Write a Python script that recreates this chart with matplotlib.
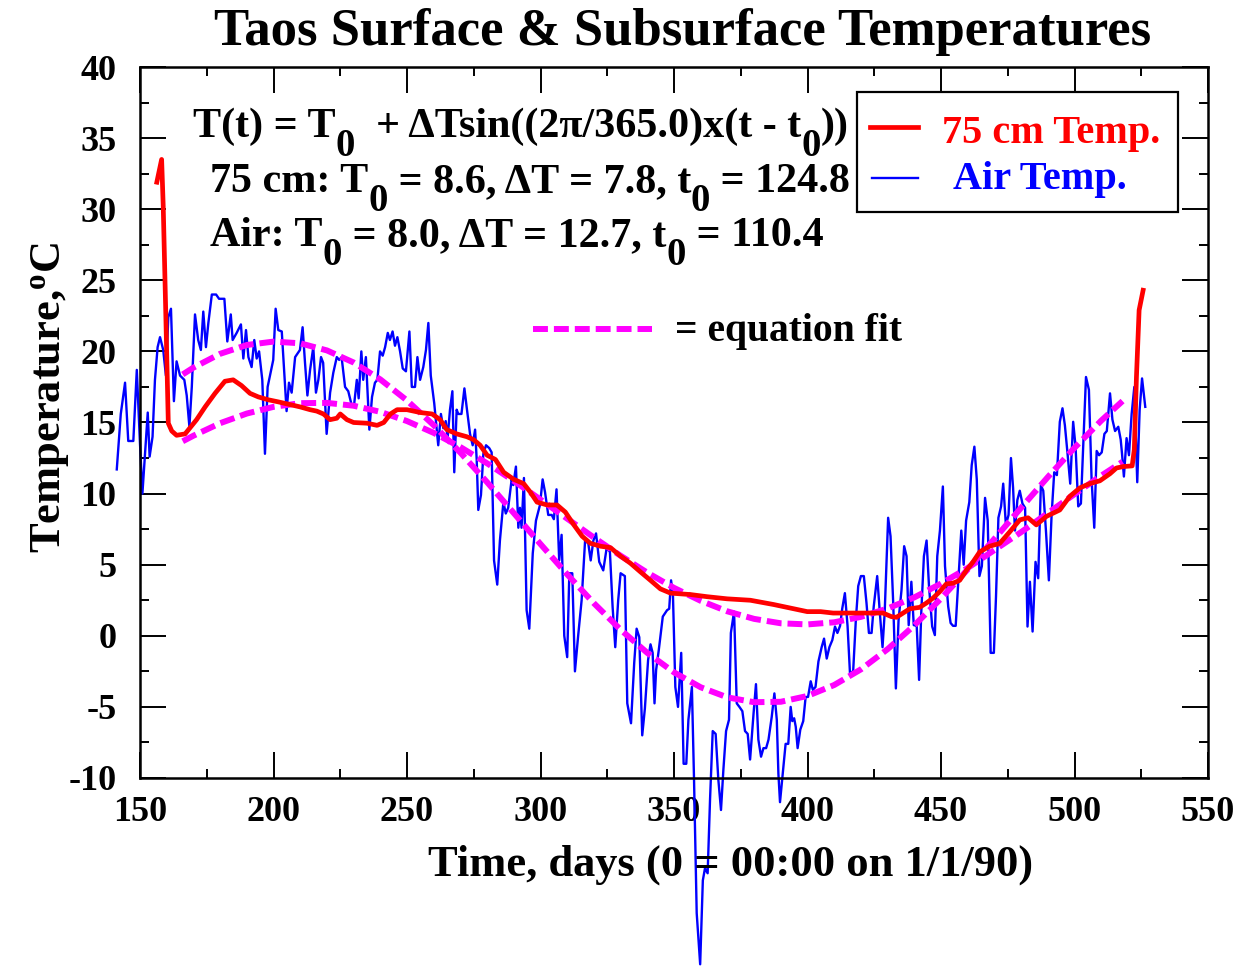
#!/usr/bin/env python3
"""Taos surface and subsurface temperatures with sinusoidal equation fits."""

import matplotlib

matplotlib.use("Agg")
import matplotlib.pyplot as plt
from matplotlib.lines import Line2D
from matplotlib.patches import Rectangle
from matplotlib.ticker import MultipleLocator

# 75 cm soil temperature (days since 1/1/90, deg C)
soil_t = [156.3, 158.1, 158.7, 159.6, 160.6, 161.9, 163.7, 166.9, 171.2, 174.4,
          178.1, 181.8, 184.9, 188.0, 191.2, 194.3, 198.0, 201.8, 209.9, 213.7,
          216.2, 218.7, 221.2, 223.7, 225.0, 227.5, 230.0, 235.0, 238.8, 241.3,
          243.8, 246.3, 250.0, 255.0, 259.4, 262.4, 264.9, 268.6, 272.4, 274.9,
          277.4, 280.0, 283.1, 286.2, 290.0, 293.7, 296.2, 298.7, 302.5, 306.2,
          309.3, 312.5, 315.6, 318.7, 322.5, 326.2, 330.0, 333.7, 337.4, 341.2,
          344.9, 348.7, 356.2, 362.4, 369.9, 378.6, 387.3, 393.6, 399.9, 404.9,
          409.6, 415.9, 422.1, 428.3, 431.4, 433.3, 435.8, 438.3, 442.0, 444.5,
          447.0, 449.5, 452.0, 454.5, 457.0, 459.5, 462.0, 464.5, 468.2, 472.0,
          475.7, 479.5, 482.6, 485.7, 489.5, 494.5, 498.2, 502.0, 505.7, 509.5,
          513.3, 515.7, 518.2, 521.6, 522.4, 523.2, 524.2, 525.7]
soil_temp = [31.9, 33.5, 30.2, 23.1, 14.95, 14.4, 14.1, 14.2, 15.2, 16.1,
             17.05, 17.9, 18.0, 17.6, 17.05, 16.8, 16.6, 16.45, 16.1, 15.9,
             15.8, 15.6, 15.2, 15.3, 15.6, 15.2, 15.0, 14.95, 14.8, 15.0,
             15.6, 15.9, 15.9, 15.7, 15.6, 15.2, 14.5, 14.2, 14.0, 13.8,
             13.4, 12.7, 12.4, 11.5, 11.0, 10.7, 10.1, 9.4, 9.2, 9.2,
             8.7, 7.8, 7.0, 6.5, 6.3, 6.2, 5.6, 5.1, 4.5, 3.9,
             3.3, 3.0, 2.9, 2.75, 2.6, 2.5, 2.2, 1.95, 1.7, 1.7,
             1.6, 1.6, 1.6, 1.6, 1.35, 1.3, 1.6, 1.9, 2.0, 2.3,
             2.65, 3.1, 3.65, 3.7, 3.9, 4.6, 5.2, 5.9, 6.3, 6.5,
             7.3, 8.15, 8.3, 7.8, 8.4, 8.85, 9.8, 10.4, 10.7, 10.9,
             11.4, 11.8, 11.9, 11.95, 13.1, 18.2, 22.9, 24.3]

# daily air temperature
air_t = [141.3, 142.8, 144.4, 145.6, 147.5, 148.8, 150.0, 150.9, 151.9, 152.9,
         153.6, 154.7, 155.6, 156.6, 157.5, 158.7, 159.7, 160.6, 161.6, 162.7,
         163.7, 165.0, 166.6, 167.5, 168.5, 169.4, 170.6, 171.8, 172.8, 173.7,
         174.7, 175.6, 176.9, 178.5, 179.6, 181.6, 182.7, 184.0, 184.7, 186.2,
         187.8, 188.7, 189.7, 190.6, 191.8, 192.8, 193.7, 194.6, 195.8, 196.8,
         197.8, 199.1, 199.9, 200.8, 201.8, 203.1, 204.9, 205.8, 206.8, 208.1,
         209.9, 210.9, 211.8, 212.7, 213.7, 214.9, 215.9, 216.8, 217.8, 218.6,
         219.9, 221.2, 222.4, 223.7, 224.6, 225.5, 226.8, 228.0, 229.3, 230.1,
         231.2, 231.9, 232.9, 233.6, 234.6, 235.9, 236.9, 238.0, 238.9, 239.9,
         240.9, 241.8, 242.8, 243.6, 244.6, 245.5, 246.4, 247.4, 248.4, 249.6,
         250.9, 251.8, 253.0, 253.9, 254.9, 256.1, 257.1, 258.0, 258.9, 260.2,
         261.7, 262.7, 263.6, 264.5, 265.2, 266.1, 267.0, 267.7, 268.6, 269.2,
         270.4, 271.5, 272.4, 273.6, 274.6, 275.5, 276.1, 276.7, 277.7, 278.6,
         279.6, 280.8, 281.7, 282.6, 283.8, 284.8, 286.1, 287.0, 287.9, 289.2,
         289.8, 290.8, 291.7, 292.3, 292.9, 293.8, 294.8, 295.8, 297.1, 298.3,
         299.8, 300.8, 301.7, 302.9, 304.2, 305.0, 306.0, 307.0, 307.9, 308.9,
         310.0, 310.8, 311.9, 312.9, 314.1, 315.4, 316.7, 317.9, 318.8, 319.8,
         320.8, 322.0, 323.5, 324.8, 326.0, 327.0, 328.0, 329.1, 330.0, 331.6,
         332.5, 333.9, 335.1, 336.0, 337.0, 338.1, 339.1, 340.3, 341.2, 342.0,
         342.7, 343.3, 344.3, 345.8, 347.4, 348.2, 348.9, 349.6, 350.5, 351.5,
         352.7, 353.6, 354.6, 355.4, 356.7, 357.5, 358.5, 359.8, 360.8, 361.6,
         362.6, 363.5, 364.5, 365.6, 366.6, 367.6, 368.5, 369.5, 370.6, 371.3,
         372.5, 373.5, 374.5, 375.6, 376.6, 377.6, 378.5, 379.8, 380.7, 381.6,
         382.6, 383.5, 384.5, 385.4, 386.6, 387.6, 388.5, 389.1, 389.7, 391.0,
         391.8, 392.8, 393.7, 394.3, 395.0, 395.6, 396.3, 397.3, 398.4, 399.3,
         400.2, 401.2, 402.0, 403.0, 404.1, 405.3, 406.2, 407.2, 408.2, 409.3,
         410.3, 411.2, 412.2, 413.0, 414.0, 415.0, 415.9, 417.1, 418.1, 419.0,
         420.0, 421.1, 422.1, 423.0, 424.0, 424.8, 426.1, 427.1, 428.1, 428.9,
         430.2, 431.1, 432.1, 433.1, 434.1, 435.2, 436.2, 437.1, 437.9, 438.9,
         439.8, 440.9, 441.8, 442.6, 443.6, 444.6, 445.5, 446.7, 447.7, 448.6,
         449.6, 450.7, 451.5, 452.7, 453.6, 454.5, 455.5, 456.7, 457.6, 458.5,
         459.4, 460.6, 461.5, 462.5, 463.4, 464.4, 465.3, 466.5, 467.5, 468.6,
         469.8, 470.6, 471.5, 472.5, 473.3, 474.3, 475.3, 476.2, 477.0, 477.7,
         478.6, 479.5, 480.5, 481.5, 482.4, 483.3, 484.3, 485.4, 486.4, 487.4,
         488.3, 489.3, 490.4, 491.4, 492.4, 493.4, 494.5, 495.5, 496.4, 497.4,
         498.4, 499.5, 500.4, 501.4, 502.4, 503.3, 504.3, 505.4, 506.4, 507.4,
         508.3, 509.2, 510.2, 511.2, 512.1, 513.3, 514.2, 515.2, 516.4, 517.3,
         517.8, 518.5, 519.5, 520.4, 521.4, 522.4, 523.5, 524.4, 525.3, 526.5]
air_temp = [11.7, 15.6, 17.8, 13.7, 13.7, 18.7, 13.5, 10.0, 12.9, 15.7,
            12.6, 14.0, 18.0, 20.3, 21.0, 20.1, 18.3, 22.4, 23.0, 16.5,
            19.3, 18.3, 18.0, 16.9, 14.7, 17.5, 22.6, 20.8, 20.1, 22.8,
            20.3, 22.0, 24.0, 24.0, 23.7, 23.7, 20.7, 22.6, 20.8, 21.3,
            21.9, 19.5, 21.5, 19.6, 18.9, 20.8, 19.5, 20.0, 18.0, 12.8,
            17.5, 18.7, 19.4, 23.0, 21.5, 21.4, 15.8, 17.8, 17.1, 19.6,
            20.1, 21.7, 19.2, 16.9, 18.7, 20.3, 17.1, 18.0, 19.6, 19.2,
            14.2, 17.1, 18.5, 19.6, 19.4, 19.6, 17.5, 17.2, 16.2, 16.1,
            18.0, 16.7, 20.0, 18.0, 19.6, 14.5, 16.8, 17.8, 18.0, 20.0,
            19.7, 20.3, 21.3, 20.8, 21.4, 20.4, 21.0, 20.0, 18.8, 18.6,
            21.4, 17.5, 17.5, 19.6, 18.0, 18.9, 20.1, 22.0, 18.3, 16.35,
            13.4, 15.6, 14.6, 15.1, 13.9, 15.9, 17.2, 11.5, 15.9, 15.6,
            15.6, 17.4, 16.0, 14.2, 13.4, 14.5, 12.4, 8.85, 9.9, 12.8,
            13.4, 13.2, 12.9, 5.3, 3.6, 6.7, 9.4, 8.6, 9.0, 11.0,
            10.6, 11.9, 7.6, 9.0, 7.6, 11.1, 1.8, 0.5, 5.8, 8.1,
            9.2, 11.0, 10.1, 8.5, 8.5, 8.2, 10.3, 5.3, 7.1, 0.0,
            -1.5, 4.4, 4.4, -2.5, 0.0, 2.5, 6.7, 6.5, 5.3, 6.7,
            7.2, 5.2, 4.6, 6.2, 5.9, 2.05, -0.8, 2.5, 4.4, 4.2,
            -4.75, -6.15, -1.9, 0.5, -0.1, -7.0, -5.1, -1.7, -0.6, -1.2,
            -4.75, -2.4, -1.0, 1.35, 1.8, 1.9, 3.9, 2.9, -3.6, -5.0,
            -1.2, -9.0, -9.0, -5.9, -3.6, -10.1, -19.5, -23.1, -17.2, -16.35,
            -16.7, -11.5, -6.7, -6.9, -10.1, -12.25, -9.4, -6.7, -5.9, 0.2,
            1.7, -4.75, -5.0, -5.3, -6.7, -6.9, -8.7, -5.45, -3.4, -7.3,
            -8.5, -7.9, -7.9, -7.3, -5.7, -4.05, -5.9, -9.7, -11.7, -9.2,
            -7.6, -7.6, -5.0, -6.0, -5.8, -6.4, -7.9, -6.6, -6.0, -4.3,
            -4.3, -3.2, -3.8, -3.6, -1.8, -0.8, -0.2, -1.6, -0.8, -0.3,
            0.65, 0.2, 0.7, 1.9, 3.0, 0.7, -2.6, -2.5, 1.1, 3.5,
            4.2, 4.2, 2.3, 0.2, 0.2, 2.05, 4.2, 1.6, -0.8, 1.6,
            8.3, 7.0, 2.3, -3.7, 1.1, 3.2, 6.3, 5.6, 0.75, 3.8,
            0.75, 0.7, -3.1, 1.6, 5.6, 6.7, 3.5, 0.65, 0.05, 5.6,
            7.4, 10.5, 4.9, 2.05, 0.9, 0.7, 0.7, 4.6, 7.4, 5.0,
            8.1, 9.4, 12.0, 13.3, 11.0, 4.2, 4.9, 9.7, 8.1, -1.2,
            -1.2, 2.75, 8.3, 9.1, 10.7, 7.8, 8.5, 12.5, 10.4, 7.4,
            9.55, 10.2, 9.3, 9.0, 0.65, 3.8, 0.3, 5.2, 4.05, 10.6,
            10.2, 7.4, 3.9, 8.4, 11.5, 11.3, 15.05, 16.0, 14.8, 12.8,
            10.7, 15.05, 13.3, 9.1, 9.3, 13.5, 18.2, 17.3, 11.0, 7.6,
            13.0, 12.7, 12.9, 14.2, 14.4, 17.05, 15.2, 14.4, 14.7, 13.8,
            12.8, 11.2, 13.9, 12.7, 15.6, 17.5, 10.8, 15.9, 18.1, 16.1]

# equation fit curves
fit_t = [166, 170, 180, 190, 200, 210, 220, 230, 240, 250, 260, 270, 280,
         290, 300, 310, 320, 330, 340, 350, 360, 370, 380, 390, 400, 410,
         420, 430, 440, 450, 460, 470, 480, 490, 500, 510, 518]
fit_soil = [13.68, 14.07, 14.95, 15.63, 16.10, 16.36, 16.38, 16.18, 15.75,
            15.10, 14.27, 13.27, 12.13, 10.89, 9.58, 8.24, 6.91, 5.63, 4.44,
            3.37, 2.46, 1.72, 1.19, 0.88, 0.80, 0.95, 1.33, 1.92, 2.70, 3.67,
            4.77, 6.03, 7.29, 8.63, 9.96, 11.26, 12.24]
fit_air = [18.38, 18.86, 19.83, 20.45, 20.69, 20.57, 20.07, 19.22, 18.03,
           16.55, 14.81, 12.88, 10.80, 8.63, 6.45, 4.32, 2.29, 0.43, -1.20,
           -2.57, -3.62, -4.33, -4.67, -4.64, -4.23, -3.46, -2.36, -0.94,
           0.73, 2.62, 4.67, 6.82, 9.00, 11.16, 13.22, 15.13, 16.51]

x_ticks = [150, 200, 250, 300, 350, 400, 450, 500, 550]
y_ticks = [-10, -5, 0, 5, 10, 15, 20, 25, 30, 35, 40]

# equation text, split into (text, is_subscript) runs
eq_lines = [
    [("T(t) = T", False), ("0", True), ("  + \u0394Tsin((2\u03c0/365.0)x(t - t", False),
     ("0", True), ("))", False)],
    [("75 cm: T", False), ("0", True), (" = 8.6, \u0394T = 7.8, t", False),
     ("0", True), (" = 124.8", False)],
    [("Air: T", False), ("0", True), (" = 8.0, \u0394T = 12.7, t", False),
     ("0", True), (" = 110.4", False)],
]

FONT = "Liberation Serif"
W, H = 1247, 968


def fx(px):
    return px / W


def fy(py):
    return 1 - py / H


def text_width(fig, renderer, s, size):
    # pad with bars so leading/trailing spaces are counted
    t1 = fig.text(0, 0, "|" + s + "|", fontsize=size, fontweight="bold")
    t2 = fig.text(0, 0, "||", fontsize=size, fontweight="bold")
    w = t1.get_window_extent(renderer).width - t2.get_window_extent(renderer).width
    t1.remove()
    t2.remove()
    return w


def draw_runs(fig, renderer, x_px, y_px, runs, size):
    x = x_px
    for s, sub in runs:
        fs = size * 0.92 if sub else size
        dy = 0.45 * size * 100 / 72 if sub else 0.0
        fig.text(fx(x), fy(y_px + dy), s, fontsize=fs, fontweight="bold",
                 ha="left", va="baseline")
        x += text_width(fig, renderer, s, fs)


def main():
    plt.rcParams.update(
        {
            "font.family": [FONT, "DejaVu Serif"],
            "font.weight": "bold",
            "axes.unicode_minus": False,
            "mathtext.fontset": "custom",
            "mathtext.rm": FONT + ":bold",
            "mathtext.bf": FONT + ":bold",
            "mathtext.it": FONT + ":bold:italic",
            "mathtext.default": "rm",
        }
    )

    fig = plt.figure(figsize=(W / 100, H / 100), dpi=100)
    renderer = fig.canvas.get_renderer()
    ax = fig.add_axes([fx(140), fy(778), (1208 - 140) / W, (778 - 67) / H])

    dash = (2.5, 1.0)
    ax.plot(fit_t, fit_air, color="#ff00ff", lw=4.3, dashes=dash, clip_on=False, zorder=3)
    ax.plot(fit_t, fit_soil, color="#ff00ff", lw=4.3, dashes=dash, clip_on=False, zorder=3)
    ax.plot(air_t, air_temp, color="#0000ff", lw=1.7, clip_on=False, zorder=2)
    ax.plot(soil_t, soil_temp, color="#ff0000", lw=3.4, clip_on=False, zorder=4)

    ax.set_xlim(150, 550)
    ax.set_ylim(-10, 40)
    ax.set_xticks(x_ticks)
    ax.set_yticks(y_ticks)
    ax.xaxis.set_minor_locator(MultipleLocator(25))
    ax.yaxis.set_minor_locator(MultipleLocator(2.5))
    ax.tick_params(which="both", direction="in", top=True, right=True, width=1.4)
    ax.tick_params(which="major", length=19)
    ax.tick_params(which="minor", length=6.5)
    ax.tick_params(axis="x", which="major", pad=13, labelsize=26)
    ax.tick_params(axis="y", which="major", pad=17, labelsize=26)
    for lab in ax.get_xticklabels() + ax.get_yticklabels():
        lab.set_fontweight("bold")
    for sp in ax.spines.values():
        sp.set_linewidth(1.8)

    fig.text(fx(731), fy(876), "Time, days (0 = 00:00 on 1/1/90)", fontsize=32,
             fontweight="bold", ha="center", va="baseline")
    fig.text(fx(60), fy(398), "Temperature,$^{\\rm o}$C", fontsize=32,
             fontweight="bold", rotation=90, ha="center", va="baseline",
             rotation_mode="anchor")

    fig.text(fx(683), fy(45), "Taos Surface & Subsurface Temperatures",
             ha="center", va="baseline", fontsize=38, fontweight="bold")

    # equation annotation
    for runs, (x0, y0) in zip(eq_lines, [(193, 137), (210, 192), (210, 246)]):
        draw_runs(fig, renderer, x0, y0, runs, 30.3)

    # equation fit key
    fig.add_artist(Line2D([fx(533), fx(652)], [fy(329), fy(329)], color="#ff00ff",
                          lw=4.3, dashes=dash))
    fig.text(fx(675), fy(341), "= equation fit", ha="left", va="baseline",
             fontsize=28.5, fontweight="bold")

    # legend box
    fig.add_artist(Rectangle((fx(857), fy(212)), (1178 - 857) / W, (212 - 92) / H,
                             facecolor="white", edgecolor="black", lw=1.6, zorder=5))
    fig.add_artist(Line2D([fx(870), fx(918)], [fy(127), fy(127)], color="#ff0000",
                          lw=3.4, zorder=6))
    fig.add_artist(Line2D([fx(872), fx(918)], [fy(178), fy(178)], color="#0000ff",
                          lw=1.7, zorder=6))
    fig.text(fx(942), fy(143), "75 cm Temp.", color="#ff0000", ha="left",
             va="baseline", fontsize=29, fontweight="bold", zorder=7)
    fig.text(fx(953), fy(189), "Air Temp.", color="#0000ff", ha="left",
             va="baseline", fontsize=29, fontweight="bold", zorder=7)

    fig.savefig("out.png", dpi=100)
    plt.close(fig)


if __name__ == "__main__":
    main()
